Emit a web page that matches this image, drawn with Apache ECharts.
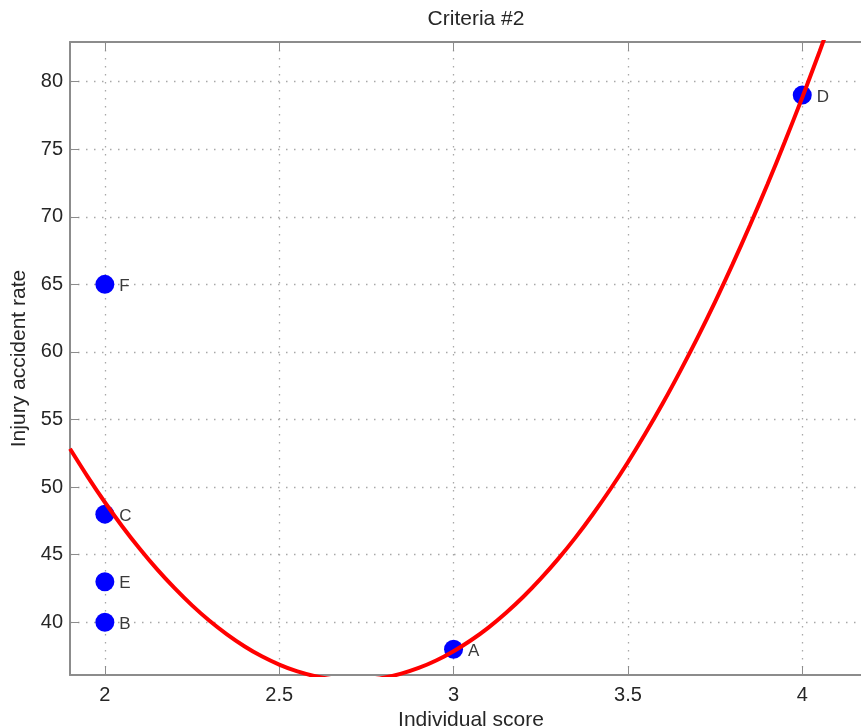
<!DOCTYPE html>
<html>
<head>
<meta charset="utf-8">
<script src="https://cdn.jsdelivr.net/npm/echarts@6/dist/echarts.min.js"></script>
<style>
  html, body { margin: 0; padding: 0; background: #fff; }
  #plot { width: 861px; height: 728px; }
</style>
</head>
<body>
<div id="plot"></div>
<script>
// data points (score, rate, name)
var scores = [3, 2, 2, 4, 2, 2];
var rates = [38, 40, 48, 79, 43, 65];
var names = ['A', 'B', 'C', 'D', 'E', 'F'];

// red fitted curve
var curveX = [1.90, 1.95, 2.00, 2.05, 2.10, 2.15, 2.20, 2.25, 2.30, 2.35, 2.40, 2.45,
  2.50, 2.55, 2.60, 2.65, 2.70, 2.75, 2.80, 2.85, 2.90, 2.95, 3.00, 3.05,
  3.10, 3.15, 3.20, 3.25, 3.30, 3.35, 3.40, 3.45, 3.50, 3.55, 3.60, 3.65,
  3.70, 3.75, 3.80, 3.85, 3.90, 3.95, 4.00, 4.05, 4.10];
var curveY = [52.84, 50.80, 48.88, 47.09, 45.44, 43.91, 42.52, 41.25, 40.11, 39.11, 38.23, 37.48,
  36.87, 36.38, 36.03, 35.80, 35.70, 35.74, 35.90, 36.20, 36.62, 37.17, 37.86, 38.67,
  39.61, 40.69, 41.89, 43.23, 44.69, 46.28, 48.01, 49.86, 51.84, 53.96, 56.20, 58.58,
  61.08, 63.71, 66.48, 69.37, 72.39, 75.55, 78.83, 82.25, 85.79];

var xTicks = [2, 2.5, 3, 3.5, 4];
var yTicks = [40, 45, 50, 55, 60, 65, 70, 75, 80];

var myChart = echarts.init(document.getElementById('plot'));

var font = 'Liberation Sans, Arial, sans-serif';
var axisGray = '#8c8c8c';
var textColor = '#262626';
var gridLine = { show: true, lineStyle: { color: '#a8a8a8', type: [1.5, 6.5], width: 1.3 } };

var points = scores.map(function (s, i) {
  return [s, rates[i], names[i]];
});
var curve = curveX.map(function (x, i) {
  return [x, curveY[i]];
});

var option = {
  animation: false,
  title: {
    text: 'Criteria #2',
    left: 471,
    top: 4,
    textAlign: 'center',
    textStyle: { fontFamily: font, fontSize: 21, fontWeight: 'normal', color: textColor }
  },
  grid: { left: 70, top: 42, right: -11, bottom: 53, outerBoundsMode: 'none', containLabel: false },
  xAxis: [{
    type: 'value',
    min: 1.9,
    max: 4.2,
    position: 'bottom',
    name: 'Individual score',
    nameLocation: 'middle',
    nameGap: 31,
    nameTextStyle: { fontFamily: font, fontSize: 21, color: textColor },
    axisLine: { show: true, lineStyle: { color: axisGray, width: 2 } },
    axisTick: { show: true, inside: true, length: 9, customValues: xTicks, lineStyle: { color: axisGray } },
    axisLabel: { customValues: xTicks, fontFamily: font, fontSize: 20, color: textColor, margin: 10 },
    splitLine: gridLine
  }, {
    type: 'value',
    min: 1.9,
    max: 4.2,
    position: 'top',
    axisLine: { show: true, lineStyle: { color: axisGray, width: 2 } },
    axisTick: { show: true, inside: true, length: 9, customValues: xTicks, lineStyle: { color: axisGray } },
    axisLabel: { show: false },
    splitLine: { show: false }
  }],
  yAxis: {
    type: 'value',
    min: 36.1,
    max: 82.93,
    name: 'Injury accident rate',
    nameLocation: 'middle',
    nameGap: 37,
    nameTextStyle: { fontFamily: font, fontSize: 21, color: textColor },
    axisLine: { show: true, lineStyle: { color: axisGray, width: 2 } },
    axisTick: { show: true, inside: true, length: 9, customValues: yTicks, lineStyle: { color: axisGray } },
    axisLabel: { customValues: yTicks, fontFamily: font, fontSize: 20, color: textColor, margin: 7 },
    splitLine: gridLine
  },
  series: [{
    type: 'scatter',
    data: points,
    symbol: 'circle',
    symbolSize: 19,
    itemStyle: { color: '#0000ff', opacity: 1 },
    label: {
      show: true,
      position: 'right',
      distance: 5,
      formatter: function (p) { return p.data[2]; },
      fontFamily: font,
      fontSize: 17,
      color: '#3a3a3a',
      offset: [0, 2]
    },
    z: 2
  }, {
    type: 'line',
    data: curve,
    smooth: 0.3,
    showSymbol: false,
    clip: true,
    lineStyle: { color: '#ff0000', width: 4 },
    z: 3
  }]
};

myChart.setOption(option);
</script>
</body>
</html>
